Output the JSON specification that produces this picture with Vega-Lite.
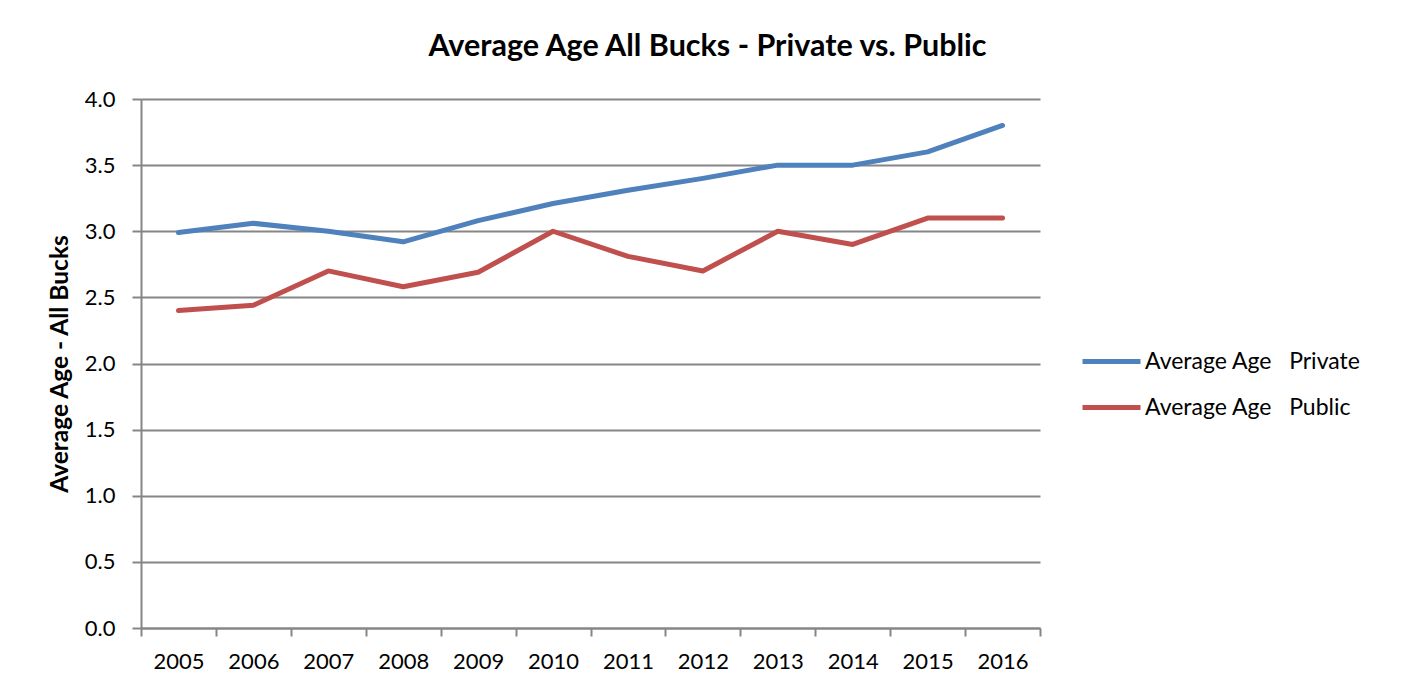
{
  "$schema": "https://vega.github.io/schema/vega-lite/v6.json",
  "autosize": {"type": "none"},
  "width": 899,
  "height": 529,
  "padding": {"left": 141, "top": 99, "right": 373, "bottom": 63},
  "background": "white",
  "title": {
    "text": "Average Age All Bucks - Private vs. Public",
    "font": "Lato",
    "fontSize": 30.5,
    "fontWeight": "bold",
    "color": "#000000",
    "anchor": "middle",
    "frame": "group",
    "dx": 117,
    "offset": 26
  },
  "data": {
    "values": [
      {"year": "2005", "series": "Average Age\u00a0\u00a0\u00a0Private", "age": 2.99},
      {"year": "2006", "series": "Average Age\u00a0\u00a0\u00a0Private", "age": 3.06},
      {"year": "2007", "series": "Average Age\u00a0\u00a0\u00a0Private", "age": 3.0},
      {"year": "2008", "series": "Average Age\u00a0\u00a0\u00a0Private", "age": 2.92},
      {"year": "2009", "series": "Average Age\u00a0\u00a0\u00a0Private", "age": 3.08},
      {"year": "2010", "series": "Average Age\u00a0\u00a0\u00a0Private", "age": 3.21},
      {"year": "2011", "series": "Average Age\u00a0\u00a0\u00a0Private", "age": 3.31},
      {"year": "2012", "series": "Average Age\u00a0\u00a0\u00a0Private", "age": 3.4},
      {"year": "2013", "series": "Average Age\u00a0\u00a0\u00a0Private", "age": 3.5},
      {"year": "2014", "series": "Average Age\u00a0\u00a0\u00a0Private", "age": 3.5},
      {"year": "2015", "series": "Average Age\u00a0\u00a0\u00a0Private", "age": 3.6},
      {"year": "2016", "series": "Average Age\u00a0\u00a0\u00a0Private", "age": 3.8},
      {"year": "2005", "series": "Average Age\u00a0\u00a0\u00a0Public", "age": 2.4},
      {"year": "2006", "series": "Average Age\u00a0\u00a0\u00a0Public", "age": 2.44},
      {"year": "2007", "series": "Average Age\u00a0\u00a0\u00a0Public", "age": 2.7},
      {"year": "2008", "series": "Average Age\u00a0\u00a0\u00a0Public", "age": 2.58},
      {"year": "2009", "series": "Average Age\u00a0\u00a0\u00a0Public", "age": 2.69},
      {"year": "2010", "series": "Average Age\u00a0\u00a0\u00a0Public", "age": 3.0},
      {"year": "2011", "series": "Average Age\u00a0\u00a0\u00a0Public", "age": 2.81},
      {"year": "2012", "series": "Average Age\u00a0\u00a0\u00a0Public", "age": 2.7},
      {"year": "2013", "series": "Average Age\u00a0\u00a0\u00a0Public", "age": 3.0},
      {"year": "2014", "series": "Average Age\u00a0\u00a0\u00a0Public", "age": 2.9},
      {"year": "2015", "series": "Average Age\u00a0\u00a0\u00a0Public", "age": 3.1},
      {"year": "2016", "series": "Average Age\u00a0\u00a0\u00a0Public", "age": 3.1}
    ]
  },
  "mark": {"type": "line", "strokeWidth": 5, "strokeCap": "round", "strokeJoin": "round"},
  "encoding": {
    "x": {
      "field": "year",
      "type": "ordinal",
      "bandPosition": 0.5,
      "scale": {"type": "band", "paddingInner": 0, "paddingOuter": 0},
      "axis": {
        "title": null,
        "labelAngle": 0,
        "tickBand": "extent",
        "grid": false,
        "tickSize": 8,
        "labelPadding": 15,
        "labelFont": "Lato",
        "labelFontSize": 22,
        "labelColor": "#000000",
        "domainColor": "#868686",
        "domainWidth": 2,
        "tickColor": "#868686",
        "tickWidth": 2
      }
    },
    "y": {
      "field": "age",
      "type": "quantitative",
      "scale": {"domain": [0, 4], "nice": false, "zero": true},
      "axis": {
        "title": "Average Age - All Bucks",
        "titleFont": "Lato",
        "titleFontSize": 24.5,
        "titleFontWeight": "bold",
        "titleColor": "#000000",
        "titlePadding": 12,
        "values": [0, 0.5, 1, 1.5, 2, 2.5, 3, 3.5, 4],
        "format": ".1f",
        "labelFont": "Lato",
        "labelFontSize": 22,
        "labelColor": "#000000",
        "labelPadding": 17,
        "tickSize": 9,
        "tickColor": "#868686",
        "tickWidth": 2,
        "domainColor": "#868686",
        "domainWidth": 2,
        "grid": true,
        "gridColor": "#868686",
        "gridWidth": 2
      }
    },
    "color": {
      "field": "series",
      "type": "nominal",
      "scale": {"range": ["#4F81BD", "#C0504D"]},
      "legend": {
        "title": null,
        "orient": "none",
        "legendX": 939,
        "legendY": 231,
        "symbolType": "stroke",
        "symbolSize": 3364,
        "symbolStrokeWidth": 5,
        "labelFont": "Lato",
        "labelFontSize": 23,
        "labelColor": "#000000",
        "labelOffset": 2,
        "labelLimit": 400,
        "rowPadding": 2
      }
    }
  },
  "config": {
    "view": {"stroke": null}
  }
}
